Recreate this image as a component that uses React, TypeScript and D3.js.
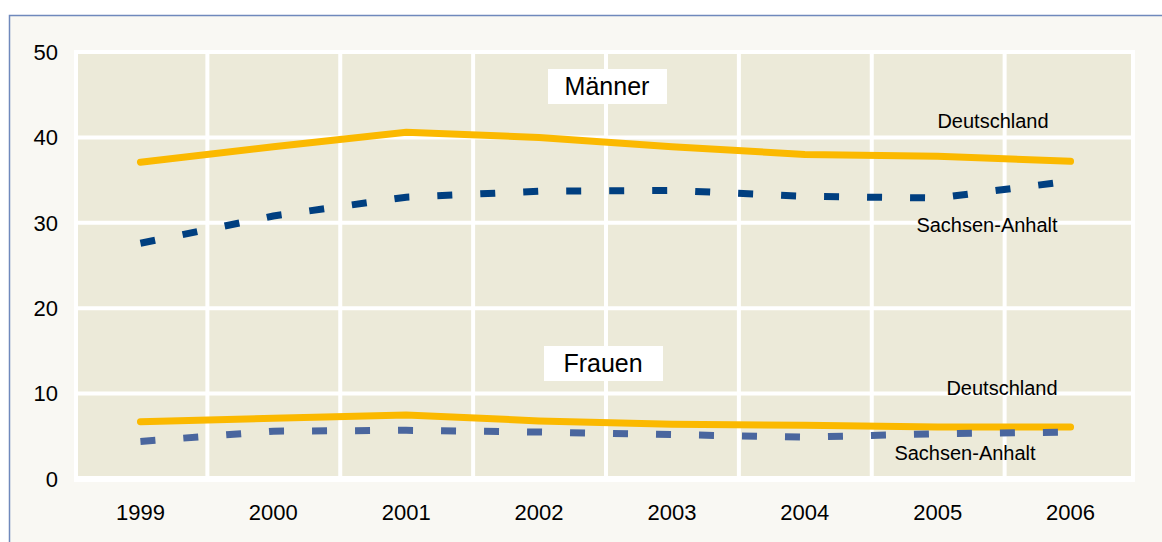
import React from "react";
import * as d3 from "d3";

const years = ["1999", "2000", "2001", "2002", "2003", "2004", "2005", "2006"];
const menDE = [37.1, 38.9, 40.6, 40.0, 38.9, 38.0, 37.8, 37.2];
const menSA = [27.6, 30.8, 33.0, 33.7, 33.8, 33.1, 32.9, 34.9];
const womenDE = [6.7, 7.1, 7.5, 6.8, 6.4, 6.3, 6.1, 6.1];
const womenSA = [4.4, 5.6, 5.7, 5.5, 5.2, 4.9, 5.3, 5.5];
const yTicks = [0, 10, 20, 30, 40, 50];

const W = 1162;
const H = 542;
const font = "'Liberation Sans', Arial, sans-serif";

const App = () => {
  const x = d3.scaleBand().domain(years).range([74, 1137]);
  const y = d3.scaleLinear().domain([0, 50]).range([479, 52]);
  const cx = (d: string) => (x(d) as number) + x.bandwidth() / 2;

  const line = d3
    .line<number>()
    .x((d, i) => cx(years[i]))
    .y((d) => y(d));

  const series = [
    { vals: menDE, color: "#fbb900", dash: null },
    { vals: menSA, color: "#003f80", dash: "15 28" },
    { vals: womenDE, color: "#fbb900", dash: null },
    { vals: womenSA, color: "#4a669e", dash: "15 28" },
  ];

  const x0 = x.range()[0];
  const x1 = x.range()[1] - 2;

  return (
    <svg width={W} height={H} style={{ position: "absolute", left: 0, top: 0 }}>
      <rect x={9.5} y={15.5} width={1170} height={540} fill="#f9f8f3" stroke="#6f89bc" strokeWidth={1.5} />
      {/* plot background */}
      <rect x={x0} y={y(50) - 2} width={x1 - x0} height={y(0) - y(50) + 5} fill="#ffffff" />
      <rect x={x0 + 4} y={y(50) + 2} width={x1 - x0 - 8} height={y(0) - y(50) - 5} fill="#ecead9" />
      {yTicks.slice(1, -1).map((t) => (
        <line key={t} x1={x0} x2={x1} y1={y(t)} y2={y(t)} stroke="#fff" strokeWidth={4} />
      ))}
      {years.slice(1).map((yr) => (
        <line
          key={yr}
          x1={(x(yr) as number) + 0.5}
          x2={(x(yr) as number) + 0.5}
          y1={y(50)}
          y2={y(0)}
          stroke="#fff"
          strokeWidth={4}
        />
      ))}
      {/* y axis labels */}
      {yTicks.map((t) => (
        <text key={t} x={58} y={y(t)} dy="0.35em" textAnchor="end" fontFamily={font} fontSize={22} fill="#000">
          {t}
        </text>
      ))}
      {/* x axis labels */}
      {years.map((yr) => (
        <text key={yr} x={cx(yr)} y={512} dy="0.35em" textAnchor="middle" fontFamily={font} fontSize={22} fill="#000">
          {yr}
        </text>
      ))}
      {/* lines */}
      {series.map((s, i) => (
        <path
          key={i}
          d={line(s.vals) as string}
          fill="none"
          stroke={s.color}
          strokeWidth={7}
          strokeLinecap={s.dash ? "butt" : "round"}
          strokeDasharray={s.dash || undefined}
        />
      ))}
      {/* group labels */}
      <rect x={548} y={69} width={119} height={35} fill="#fff" />
      <text x={607} y={86} dy="0.35em" textAnchor="middle" fontFamily={font} fontSize={25} fill="#000">
        Männer
      </text>
      <rect x={544} y={346} width={119} height={35} fill="#fff" />
      <text x={603} y={363} dy="0.35em" textAnchor="middle" fontFamily={font} fontSize={25} fill="#000">
        Frauen
      </text>
      {/* series labels */}
      <text x={993} y={121} dy="0.35em" textAnchor="middle" fontFamily={font} fontSize={20} fill="#000">
        Deutschland
      </text>
      <text x={987} y={225} dy="0.35em" textAnchor="middle" fontFamily={font} fontSize={20} fill="#000">
        Sachsen-Anhalt
      </text>
      <text x={1002} y={388} dy="0.35em" textAnchor="middle" fontFamily={font} fontSize={20} fill="#000">
        Deutschland
      </text>
      <text x={965} y={453} dy="0.35em" textAnchor="middle" fontFamily={font} fontSize={20} fill="#000">
        Sachsen-Anhalt
      </text>
    </svg>
  );
};

export default App;
